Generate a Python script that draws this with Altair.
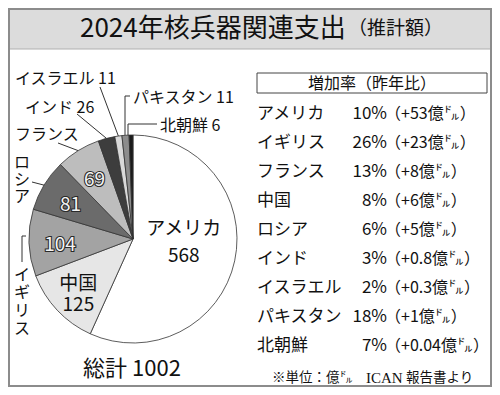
import altair as alt
import pandas as pd
import numpy as np

FONT = "Noto Sans CJK JP"
SERIF = "Liberation Serif"
OFF = 8  # page margin: image coords -> chart coords

# ---------------- data ----------------
countries = ["アメリカ", "中国", "イギリス", "ロシア", "フランス", "インド", "イスラエル", "パキスタン", "北朝鮮"]
spending = [568, 125, 104, 81, 69, 26, 11, 11, 6]
shades = ["#ffffff", "#e6e6e6", "#a3a3a3", "#6b6b6b", "#bdbdbd", "#3d3d3d", "#d9d9d9", "#8c8c8c", "#1a1a1a"]
total_label = "総計 1002"
title_main = "2024年核兵器関連支出"
title_sub = "（推計額）"

table_header = "増加率（昨年比）"
table_names = ["アメリカ", "イギリス", "フランス", "中国", "ロシア", "インド", "イスラエル", "パキスタン", "北朝鮮"]
growth_pct = ["10%", "26%", "13%", "8%", "6%", "3%", "2%", "18%", "7%"]
growth_abs = ["+53", "+23", "+8", "+6", "+5", "+0.8", "+0.3", "+1", "+0.04"]
foot_unit = "※単位：億㌦"
foot_src = "ICAN"
foot_rest = "報告書より"

pie = pd.DataFrame({"country": countries, "value": spending, "idx": list(range(len(countries)))})
table = pd.DataFrame({
    "row": list(range(len(table_names))),
    "name": table_names,
    "pct": growth_pct,
    "chg": ["（" + a + "億㌦）" for a in growth_abs],
})
DUMMY = alt.Data(values=[{"k": 1}])

W, H = 484, 379
CX, CY, R = 133 - OFF, 239 - OFF, 104
CJK_MID = 0.38  # visual centre of CJK glyphs above the alphabetic baseline (em)

# slice mid angles derived from the data (clockwise from 12 o'clock)
vals = np.array(spending, dtype=float)
cum = np.cumsum(vals)
mid = (cum - vals / 2) / vals.sum() * 2 * np.pi


def edge(i, r=R):
    return CX + r * np.sin(mid[i]), CY - r * np.cos(mid[i])


def rule(x1, y1, x2, y2, color="#333333", w=1.0):
    return alt.Chart(DUMMY).mark_rule(color=color, strokeWidth=w).encode(
        x=alt.value(float(x1)), y=alt.value(float(y1)),
        x2=alt.value(float(x2)), y2=alt.value(float(y2)))


def label(text, x, yc, size, align="left", font=FONT, **kw):
    """text whose first line is visually centred on image-y yc"""
    return alt.Chart(DUMMY).mark_text(
        text=text, font=font, fontSize=size, align=align, baseline="alphabetic",
        color="#111111", **kw).encode(
        x=alt.value(float(x - OFF)), y=alt.value(float(yc - OFF + CJK_MID * size)))


def vertical(text, x, yc_first, size, step):
    """vertical (tategaki) label: one character per mark, stacked downward"""
    return [label(ch, x, yc_first + i * step, size, align="center") for i, ch in enumerate(text)]


# ---------------- background / frame ----------------
title_bar = alt.Chart(DUMMY).mark_rect(fill="#dcdcdc").encode(
    x=alt.value(0), x2=alt.value(W), y=alt.value(0), y2=alt.value(41))
title_line = rule(0, 41, W, 41, color="#b0b0b0", w=1)
frame = alt.Chart(DUMMY).mark_rect(fill=None, stroke="#8c8c8c", strokeWidth=2).encode(
    x=alt.value(1), x2=alt.value(W - 1), y=alt.value(1), y2=alt.value(H - 1))

t1 = label(title_main, 80, 27, 26)
t2 = label(title_sub, 348, 28, 19)

# ---------------- pie ----------------
theta = alt.Theta("value:Q", stack=True)
order = alt.Order("idx:Q")

arcs = alt.Chart(pie).mark_arc(outerRadius=R, stroke="#333333", strokeWidth=0.8).encode(
    theta=theta, order=order,
    color=alt.Color("country:N", scale=alt.Scale(domain=countries, range=shades), legend=None),
    x=alt.value(CX), y=alt.value(CY))


def pie_text(expr, radius, **kw):
    return alt.Chart(pie).transform_calculate(lbl=expr).mark_text(
        radius=radius, font=FONT, baseline="middle", align="center", **kw).encode(
        theta=theta, order=order, text="lbl:N", x=alt.value(CX), y=alt.value(CY))


usa_lbl = pie_text("datum.idx == 0 ? datum.country + '\\n' + datum.value : ''", 52,
                   fontSize=19, lineBreak="\n", lineHeight=27, dy=-20.5, color="#111111")
china_lbl = pie_text("datum.idx == 1 ? datum.country + '\\n' + datum.value : ''", 75,
                     fontSize=19, lineBreak="\n", lineHeight=21, dy=-6, color="#111111")
halo_expr = "datum.idx >= 2 && datum.idx <= 4 ? '' + datum.value : ''"
num_halo = pie_text(halo_expr, 73, fontSize=19, dy=3.5, fill="#2a2a2a", stroke="#2a2a2a", strokeWidth=2.2)
num_fill = pie_text(halo_expr, 73, fontSize=19, dy=3.5, fill="#f4f4f4")

total_txt = label(total_label, 132, 368, 22, align="center")

# ---------------- outside labels + leaders ----------------
ex6, ey6 = edge(6)
ex5, ey5 = edge(5)
ex4, ey4 = edge(4)
ex3, ey3 = edge(3)
_, ey7 = edge(7)
_, ey8 = edge(8)

annotations = [
    label("イスラエル 11", 15, 78, 16),
    rule(100 - OFF, 87 - OFF, ex6, ey6),
    label("インド 26", 25, 107, 16),
    rule(77 - OFF, 114 - OFF, ex5, ey5),
    label("フランス", 15, 134, 16),
    rule(58 - OFF, 143 - OFF, ex4, ey4),
    *vertical("ロシア", 22, 162, 16, 17),
    rule(32 - OFF, 182 - OFF, ex3, ey3),
    *vertical("イギリス", 22, 274, 16, 18),
    rule(22 - OFF, 236 - OFF, 22 - OFF, 262 - OFF),
    rule(22 - OFF, 236 - OFF, 26 - OFF, 236 - OFF),
    label("パキスタン 11", 133, 97, 16),
    rule(125 - OFF, 96 - OFF, 125 - OFF, ey7),
    rule(125 - OFF, 96 - OFF, 130 - OFF, 96 - OFF),
    label("北朝鮮 6", 160, 125, 16),
    rule(128 - OFF, 124 - OFF, 157 - OFF, 124 - OFF),
    rule(128 - OFF, 124 - OFF, 128 - OFF, ey8),
]

# ---------------- table ----------------
hdr_box = alt.Chart(DUMMY).mark_rect(fill="white", stroke="#444444", strokeWidth=1).encode(
    x=alt.value(257 - OFF), x2=alt.value(487 - OFF), y=alt.value(73 - OFF), y2=alt.value(93 - OFF))
hdr_txt = label(table_header, 372, 83, 16, align="center")

ypos = alt.Y("row:O", scale=alt.Scale(type="point", range=[113 - OFF, 345 - OFF], padding=0), axis=None)


def col(field, x, align, size):
    return alt.Chart(table).mark_text(
        font=FONT, fontSize=size, align=align, baseline="alphabetic",
        dy=CJK_MID * size, color="#111111").encode(
        y=ypos, x=alt.value(x - OFF), text=f"{field}:N")


t_name = col("name", 257, "left", 17)
t_pct = col("pct", 387, "right", 17)
t_chg = col("chg", 385, "left", 16)

foot1 = label(foot_unit, 272, 377, 13.5)
foot2 = label(foot_src, 366, 377, 15, font=SERIF)
foot3 = label(foot_rest, 406, 377, 13.5)

chart = alt.layer(
    title_bar, title_line, t1, t2,
    arcs, usa_lbl, china_lbl, num_halo, num_fill, total_txt,
    *annotations,
    hdr_box, hdr_txt, t_name, t_pct, t_chg, foot1, foot2, foot3,
    frame,
).properties(
    width=W, height=H,
    autosize=alt.AutoSizeParams(type="none"),
    padding=0,
).configure_view(stroke=None)

chart.save("out.html", embed_options={"renderer": "svg", "actions": False})
